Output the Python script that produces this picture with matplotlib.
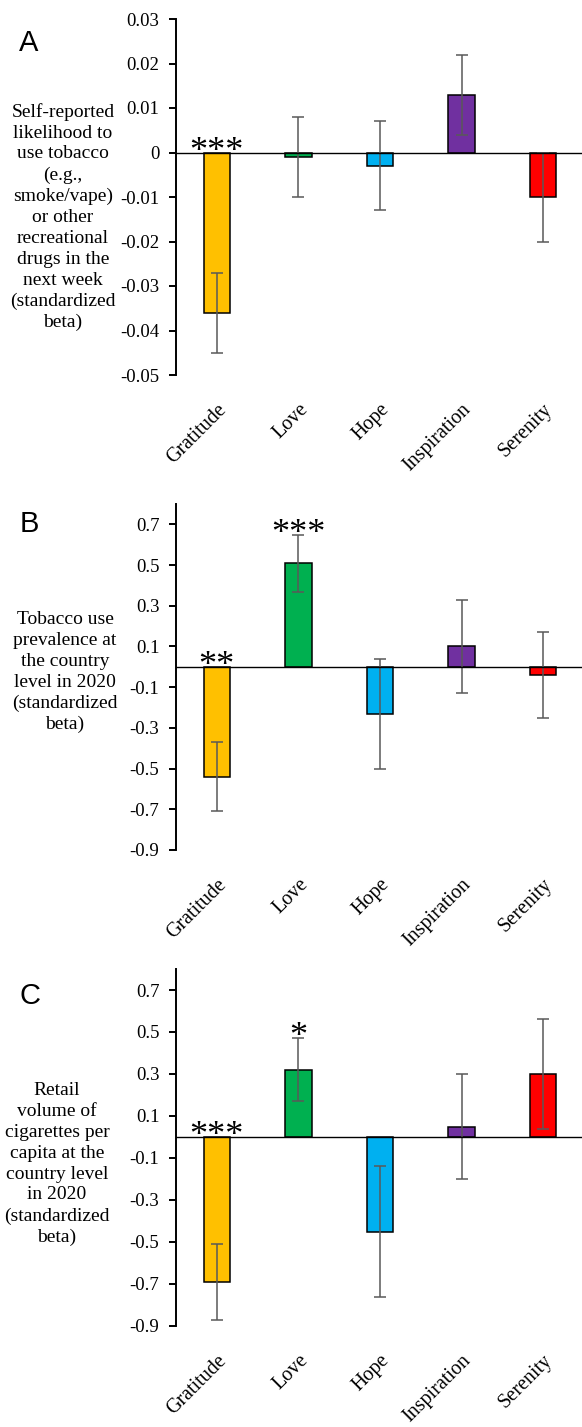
import matplotlib
matplotlib.use('Agg')
import matplotlib.pyplot as plt
from matplotlib.ticker import FixedLocator, FuncFormatter

plt.rcParams['font.family'] = ['Liberation Serif', 'DejaVu Serif']
plt.rcParams['axes.unicode_minus'] = False

categories = ['Gratitude', 'Love', 'Hope', 'Inspiration', 'Serenity']
bar_colors = ['#FFC000', '#00B050', '#00B0F0', '#7030A0', '#FF0000']

# panel A: self-reported likelihood
a_values = [-0.036, -0.001, -0.003, 0.013, -0.010]
a_errors = [0.009, 0.009, 0.010, 0.009, 0.010]
a_stars = ['***', '', '', '', '']
a_ticks = [0.03, 0.02, 0.01, 0, -0.01, -0.02, -0.03, -0.04, -0.05]

# panel B: tobacco use prevalence
b_values = [-0.54, 0.51, -0.23, 0.10, -0.04]
b_errors = [0.17, 0.14, 0.27, 0.23, 0.21]
b_stars = ['**', '***', '', '', '']

# panel C: retail volume of cigarettes
c_values = [-0.69, 0.32, -0.45, 0.05, 0.30]
c_errors = [0.18, 0.15, 0.31, 0.25, 0.26]
c_stars = ['***', '*', '', '', '']

bc_ticks = [0.7, 0.5, 0.3, 0.1, -0.1, -0.3, -0.5, -0.7, -0.9]

a_label = ('Self-reported\nlikelihood to\nuse tobacco\n(e.g.,\nsmoke/vape)\nor other\n'
           'recreational\ndrugs in the\nnext week\n(standardized\nbeta)')
b_label = 'Tobacco use\nprevalence at\nthe country\nlevel in 2020\n(standardized\nbeta)'
c_label = ('Retail\nvolume of\ncigarettes per\ncapita at the\ncountry level\nin 2020\n'
           '(standardized\nbeta)')

W, H = 582, 1427
fig = plt.figure(figsize=(W / 100, H / 100), dpi=100)


def fmt_a(v, pos):
    return '0' if abs(v) < 1e-9 else '%.2f' % v


def fmt_bc(v, pos):
    return '%.1f' % v


panels = [
    # values, errors, stars, ticks, ylim, formatter, label, axes pixel box, label centre, letter
    (a_values, a_errors, a_stars, a_ticks, (-0.05, 0.03), fmt_a, a_label, (19, 375), (63, 217), 'A', (29, 43)),
    (b_values, b_errors, b_stars, bc_ticks, (-0.9, 0.8), fmt_bc, b_label, (504, 850), (65, 672), 'B', (29, 524)),
    (c_values, c_errors, c_stars, bc_ticks, (-0.9, 0.8), fmt_bc, c_label, (969, 1326), (57, 1164), 'C', (30, 996)),
]

x = list(range(len(categories)))

for vals, errs, stars, ticks, ylim, fmt, label, (top, bot), (lx, ly), letter, (px, py) in panels:
    ax = fig.add_axes([176 / W, 1 - bot / H, 408 / W, (bot - top) / H])
    ax.bar(x, vals, width=0.325, color=bar_colors, edgecolor='black', linewidth=1.1, zorder=2)
    ax.errorbar(x, vals, yerr=errs, fmt='none', ecolor='#595959', elinewidth=1.1,
                capsize=4, capthick=1.1, zorder=3)
    ax.axhline(0, color='black', linewidth=1.0, zorder=4)
    ax.set_xlim(-0.5, 4.5)
    ax.set_ylim(*ylim)
    ax.yaxis.set_major_locator(FixedLocator(ticks))
    ax.yaxis.set_major_formatter(FuncFormatter(fmt))
    ax.set_xticks(x)
    ax.set_xticklabels(categories, rotation=45, ha='right', va='top', rotation_mode='anchor',
                       fontsize=14.5)
    ax.tick_params(axis='x', length=0, pad=18)
    ax.tick_params(axis='y', direction='out', length=5, width=1.4, labelsize=13.5, pad=7)
    for s in ['top', 'right', 'bottom']:
        ax.spines[s].set_visible(False)
    ax.spines['left'].set_linewidth(1.4)

    for i, s in enumerate(stars):
        if s:
            base = max(0, vals[i] + errs[i])
            ax.annotate(s, xy=(i, base), xytext=(0, -8), textcoords='offset pixels',
                        ha='center', va='baseline', fontsize=26)

    fig.text(lx / W, 1 - ly / H, label, ha='center', va='center', fontsize=14,
             linespacing=1.3)
    fig.text(px / W, 1 - py / H, letter, ha='center', va='center', fontsize=21,
             family=['Liberation Sans', 'DejaVu Sans'])

fig.savefig('out.png', dpi=100)
